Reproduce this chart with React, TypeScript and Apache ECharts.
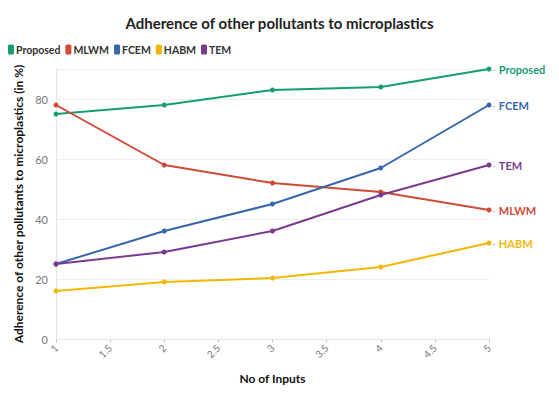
import React, { useEffect, useRef } from "react";
import * as echarts from "echarts";

const inputs = [1, 2, 3, 4, 5];
const seriesNames = ["Proposed", "MLWM", "FCEM", "HABM", "TEM"];
const proposed = [75, 78, 83, 84, 90];
const mlwm = [78, 58, 52, 49, 43];
const fcem = [25, 36, 45, 57, 78];
const habm = [16, 19, 20.3, 24, 32];
const tem = [25, 29, 36, 48, 58];
const colors = ["#169e73", "#d04a36", "#3766ad", "#f2b705", "#7a3a8f"];

const FONT = "Lato, 'Open Sans', sans-serif";

export default function App() {
  const ref = useRef<HTMLDivElement>(null);
  useEffect(() => {
    document.body.style.margin = "0";
    const chart = echarts.init(ref.current!, undefined, { renderer: "svg" });
    const all = [proposed, mlwm, fcem, habm, tem];
    chart.setOption({
      animation: false,
      textStyle: { fontFamily: FONT },
      title: {
        text: "Adherence of other pollutants to microplastics",
        left: "center",
        top: 10,
        textStyle: { fontSize: 15, fontWeight: "bold", color: "#222", fontFamily: FONT },
      },
      legend: {
        left: 3,
        top: 39,
        itemWidth: 6,
        itemHeight: 10,
        itemGap: 5,
        icon: "roundRect",
        textStyle: { fontSize: 10.5, fontWeight: "bold", color: "#333", padding: [0, 0, 0, -3] },
        data: seriesNames,
      },
      grid: { left: 56, right: 70, top: 69, bottom: 60 },
      xAxis: {
        type: "value",
        min: 1,
        max: 5,
        interval: 0.5,
        name: "No of Inputs",
        nameLocation: "middle",
        nameGap: 33,
        nameTextStyle: { fontSize: 12, fontWeight: "bold", color: "#111" },
        axisLine: { show: true, lineStyle: { color: "#e6e6e6" } },
        axisTick: { show: true, length: 4, lineStyle: { color: "#ccc" } },
        axisLabel: { rotate: 45, fontSize: 10, color: "#777", margin: 7 },
        splitLine: { show: false },
      },
      yAxis: {
        type: "value",
        min: 0,
        max: 90,
        interval: 20,
        name: "Adherence of other pollutants to microplastics (in %)",
        nameLocation: "middle",
        nameGap: 29,
        nameTextStyle: { fontSize: 12, fontWeight: "bold", color: "#111" },
        axisLine: { show: true, lineStyle: { color: "#e6e6e6" } },
        axisTick: { show: false },
        axisLabel: { fontSize: 11, color: "#777", showMaxLabel: false, margin: 8 },
        splitLine: { lineStyle: { color: "#eeeeee" } },
      },
      series: seriesNames.map((name, i) => ({
        name,
        type: "line",
        data: inputs.map((x, j) => [x, all[i][j]]),
        symbol: "circle",
        symbolSize: 5,
        color: colors[i],
        lineStyle: { width: 2, color: colors[i] },
        itemStyle: { color: colors[i] },
        endLabel: {
          show: true,
          distance: 3,
          formatter: "{d|-} {n|" + name + "}",
          rich: {
            d: { color: "#aaa", fontSize: 10 },
            n: { color: colors[i], fontSize: 11, fontWeight: "bold", fontFamily: FONT },
          },
        },
      })),
    });
    return () => chart.dispose();
  }, []);
  return <div ref={ref} style={{ width: 559, height: 399 }} />;
}
